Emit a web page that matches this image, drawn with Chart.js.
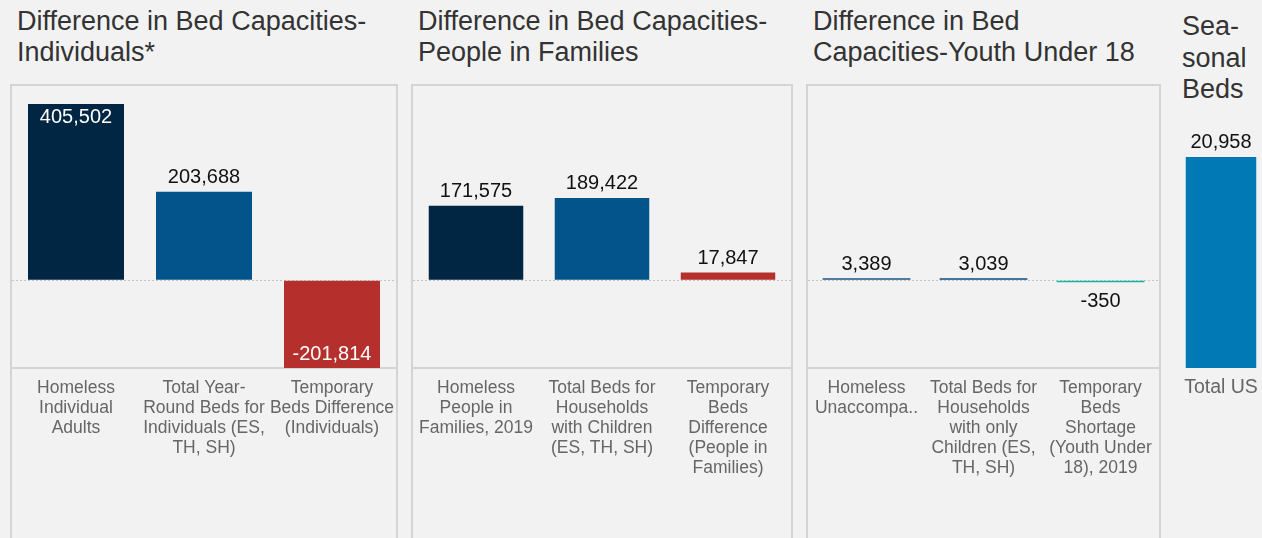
<!DOCTYPE html>
<html><head><meta charset="utf-8">
<script src="https://cdn.jsdelivr.net/npm/chart.js@4.4.0/dist/chart.umd.min.js"></script>
<style>
html,body{margin:0;padding:0;width:1262px;height:538px;overflow:hidden;background:#f2f2f2;font-family:"Liberation Sans",Arial,sans-serif;}
.title{position:absolute;font-size:27px;line-height:31px;color:#333;white-space:nowrap;}
.panel{position:absolute;top:84px;height:470px;border:2px solid #d4d4d4;border-bottom:none;}
canvas{position:absolute;display:block;}
</style></head><body>
<div class="title" style="left:17px;top:6px;">Difference in Bed Capacities-<br>Individuals*</div>
<div class="title" style="left:418px;top:6px;">Difference in Bed Capacities-<br>People in Families</div>
<div class="title" style="left:813px;top:6px;">Difference in Bed<br>Capacities-Youth Under 18</div>
<div class="title" style="left:1182px;top:11px;line-height:31.6px;">Sea-<br>sonal<br>Beds</div>

<div class="panel" style="left:10px;width:384px;"><canvas id="c1" width="384" height="452" style="left:0;top:0;"></canvas></div>
<div class="panel" style="left:411px;width:378px;"><canvas id="c2" width="378" height="452" style="left:0;top:0;"></canvas></div>
<div class="panel" style="left:806px;width:351px;"><canvas id="c3" width="351" height="452" style="left:0;top:0;"></canvas></div>
<canvas id="c4" width="94" height="452" style="left:1174px;top:86px;"></canvas>

<script>
const FONT = '"Liberation Sans", Arial, sans-serif';

// ---- data ----
const individualsLabels = [["Homeless","Individual","Adults"],["Total Year-","Round Beds for","Individuals (ES,","TH, SH)"],["Temporary","Beds Difference","(Individuals)"]];
const individualsValues = [405502, 203688, -201814];

const familiesLabels = [["Homeless","People in","Families, 2019"],["Total Beds for","Households","with Children","(ES, TH, SH)"],["Temporary","Beds","Difference","(People in","Families)"]];
const familiesValues = [171575, 189422, 17847];

const youthLabels = [["Homeless","Unaccompa.."],["Total Beds for","Households","with only","Children (ES,","TH, SH)"],["Temporary","Beds","Shortage","(Youth Under","18), 2019"]];
const youthValues = [3389, 3039, -350];

const seasonalLabels = [["Total US"]];
const seasonalValues = [20958];

const sharedAxisMin = -201814;
const sharedAxisMax = 447000;
const seasonalAxisMax = 28000;

// ---- value label plugin ----
const valueLabels = {
  id: 'valueLabels',
  afterDatasetsDraw(chart) {
    const ctx = chart.ctx, area = chart.chartArea;
    const meta = chart.getDatasetMeta(0);
    const data = chart.data.datasets[0].data;
    const cap = 14.3;
    ctx.save();
    ctx.font = '20px ' + FONT;
    ctx.textAlign = 'center';
    ctx.textBaseline = 'alphabetic';
    meta.data.forEach((bar, i) => {
      const v = data[i];
      const txt = v.toLocaleString('en-US');
      let y, color = '#111';
      if (v >= 0) {
        y = bar.y - 8.5;
        if (y - cap < area.top) { y = bar.y + 4.5 + cap; color = '#fff'; }
      } else {
        y = bar.y + 10.5 + cap;
        if (y > area.bottom) { y = bar.y - 8; color = '#fff'; }
      }
      ctx.fillStyle = color;
      ctx.fillText(txt, bar.x, y);
    });
    ctx.restore();
  }
};

function makeChart(id, labels, values, colors, min, max, o) {
  o = o || {};
  return new Chart(document.getElementById(id), {
    type: 'bar',
    data: { labels: labels, datasets: [{ data: values, backgroundColor: colors, borderWidth: 0,
      barPercentage: 0.75, categoryPercentage: 1, minBarLength: o.minBar || 0 }] },
    plugins: [valueLabels],
    options: {
      responsive: false, animation: false, devicePixelRatio: 1,
      layout: { padding: 0 },
      plugins: { legend: { display: false }, tooltip: { enabled: false } },
      scales: {
        x: {
          grid: { display: false, drawTicks: false },
          border: { display: o.border !== false, color: '#d4d4d4', width: 2 },
          ticks: { color: '#666', autoSkip: false, maxRotation: 0, minRotation: 0, padding: 10,
                   font: { family: FONT, size: o.labelSize || 17.5, lineHeight: 20 / (o.labelSize || 17.5) } },
          afterFit: s => { s.height = 170; s.paddingLeft = 0; s.paddingRight = 0; }
        },
        y: {
          min: min, max: max,
          afterBuildTicks: s => { s.ticks = [{ value: 0 }]; },
          ticks: { display: false },
          grid: { display: o.zero !== false, drawTicks: false, color: '#c4c4c4', lineWidth: 1 },
          border: { display: false, dash: [2, 2] },
          afterFit: s => { s.width = 0; s.paddingTop = 0; s.paddingBottom = 0; }
        }
      }
    }
  });
}

makeChart('c1', individualsLabels, individualsValues, ['#002644', '#02548a', '#b5302d'], sharedAxisMin, sharedAxisMax);
makeChart('c2', familiesLabels, familiesValues, ['#002644', '#02548a', '#b5302d'], sharedAxisMin, sharedAxisMax);
makeChart('c3', youthLabels, youthValues, ['#1a5486', '#0b4a82', '#1db3a3'], sharedAxisMin, sharedAxisMax, { minBar: 2 });
makeChart('c4', seasonalLabels, seasonalValues, ['#0079b5'], 0, seasonalAxisMax, { border: false, zero: false, labelSize: 19.5 });
</script>
</body></html>
